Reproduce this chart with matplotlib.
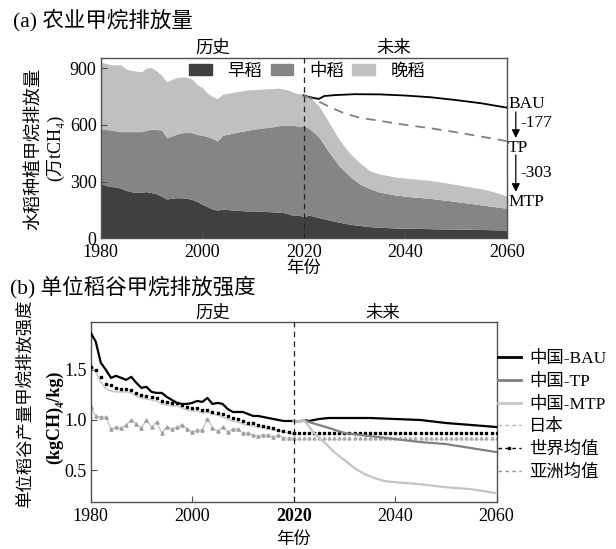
import numpy as np
import matplotlib
matplotlib.use("Agg")
import matplotlib.pyplot as plt
from matplotlib.patches import Patch
from matplotlib.lines import Line2D

plt.rcParams["font.family"] = ["Liberation Serif", "Noto Sans CJK SC", "DejaVu Serif"]
plt.rcParams["font.size"] = 13
plt.rcParams["lines.scale_dashes"] = False

# ── Panel (a) data: cumulative tops of the stacked areas (万tCH4) ────────────
YEARS_A = list(range(1980, 2021)) + [2021, 2022, 2023, 2025, 2027, 2029, 2031, 2033,
                                     2035, 2038, 2041, 2045, 2049, 2053, 2056, 2060]
EARLY_TOP = [291, 280, 274, 271, 265, 253, 247, 242, 244, 247,
             242, 235, 222, 208, 212, 215, 214, 212, 205, 195,
             180, 168, 155, 150, 155, 152, 150, 148, 146, 145,
             145, 144, 143, 141, 140, 139, 136, 130, 120, 123,
             114,
             123, 116, 110, 97, 85, 75, 68, 62, 58, 55, 53, 51, 49, 48, 46, 44]
MIDDLE_TOP = [578, 575, 573, 568, 564, 564, 564, 564, 564, 571,
              578, 575, 573, 532, 541, 552, 558, 561, 558, 549,
              545, 538, 528, 515, 545, 550, 556, 562, 567, 572,
              576, 580, 584, 586, 590, 595, 597, 599, 598, 592,
              596,
              582, 560, 535, 455, 383, 330, 288, 263, 244, 229, 220, 211, 198, 184, 173, 159]
LATE_TOP = [931, 925, 917, 917, 917, 895, 888, 884, 881, 900,
            903, 885, 862, 829, 840, 850, 853, 852, 842, 812,
            798, 768, 750, 740, 762, 767, 771, 776, 780, 785,
            786, 788, 789, 790, 792, 794, 790, 783, 772, 763,
            767,
            749, 725, 700, 612, 522, 452, 400, 358, 340, 324, 316, 306, 289, 271, 257, 225]

BAU_YEARS = [2020, 2021, 2022, 2023, 2024, 2026, 2030, 2035, 2040, 2045, 2050, 2055, 2060]
BAU_TOTAL = [755, 748, 742, 737, 752, 757, 762, 761, 755, 746, 731, 714, 691]
TP_YEARS = [2020, 2023, 2025, 2028, 2031, 2035, 2040, 2045, 2050, 2055, 2060]
TP_TOTAL = [755, 723, 696, 661, 638, 621, 600, 582, 561, 538, 514]

AREA_LABELS = ["早稻", "中稻", "晚稻"]
AREA_COLORS = ["#404040", "#858585", "#c0c0c0"]

# ── Panel (b) data: emission intensity (kgCH4/kg) ────────────────────────────
YEARS_HIST = list(range(1980, 2021))
CHINA_HIST = [1.87, 1.78, 1.57, 1.50, 1.42, 1.44, 1.42, 1.40, 1.43, 1.37,
              1.32, 1.33, 1.28, 1.27, 1.27, 1.23, 1.20, 1.17, 1.16, 1.16,
              1.17, 1.19, 1.18, 1.22, 1.16, 1.17, 1.16, 1.11, 1.08, 1.08,
              1.08, 1.06, 1.04, 1.04, 1.03, 1.02, 1.01, 1.00, 0.99, 0.99,
              0.99]
WORLD_HIST = [1.53, 1.50, 1.43, 1.36, 1.35, 1.32, 1.31, 1.31, 1.30, 1.27,
              1.25, 1.24, 1.23, 1.22, 1.19, 1.18, 1.17, 1.17, 1.15, 1.13,
              1.12, 1.12, 1.10, 1.10, 1.08, 1.07, 1.06, 1.04, 1.02, 1.01,
              0.99, 0.97, 0.97, 0.95, 0.94, 0.93, 0.92, 0.90, 0.89, 0.88,
              0.87]
ASIA_HIST = [1.54, 1.48, 1.38, 1.31, 1.29, 1.28, 1.28, 1.28, 1.27, 1.24,
             1.22, 1.21, 1.20, 1.19, 1.16, 1.15, 1.14, 1.14, 1.12, 1.10,
             1.09, 1.09, 1.07, 1.08, 1.06, 1.05, 1.03, 1.01, 0.99, 0.98,
             0.96, 0.95, 0.94, 0.93, 0.92, 0.91, 0.90, 0.89, 0.88, 0.87,
             0.86]
JAPAN_HIST = [1.13, 1.04, 1.03, 1.03, 0.91, 0.93, 0.92, 0.95, 1.00, 0.96,
              0.92, 1.00, 0.93, 0.98, 0.87, 0.93, 0.91, 0.93, 0.95, 0.91,
              0.88, 0.90, 0.90, 1.01, 0.92, 0.89, 0.93, 0.88, 0.91, 0.91,
              0.87, 0.87, 0.85, 0.84, 0.85, 0.85, 0.83, 0.85, 0.82, 0.82,
              0.82]
WORLD_FUTURE = 0.873
JAPAN_FUTURE = 0.818

BAU_FUT_YEARS = [2021, 2022, 2023, 2024, 2025, 2027, 2030, 2035, 2040, 2045, 2050, 2055, 2060]
BAU_FUT = [0.98, 1.00, 0.99, 1.00, 1.01, 1.02, 1.02, 1.02, 1.01, 1.00, 0.97, 0.95, 0.93]
TP_FUT_YEARS = [2020, 2021, 2022, 2023, 2025, 2027, 2030, 2035, 2040, 2045, 2050, 2055, 2060]
TP_FUT = [0.99, 0.98, 1.00, 0.98, 0.95, 0.92, 0.87, 0.84, 0.81, 0.78, 0.76, 0.72, 0.68]
MTP_FUT_YEARS = [2020, 2021, 2022, 2024, 2026, 2028, 2030, 2032, 2034, 2036, 2038,
                 2040, 2045, 2050, 2055, 2060]
MTP_FUT = [0.99, 0.98, 1.00, 0.87, 0.78, 0.68, 0.60, 0.52, 0.46, 0.42, 0.39,
           0.38, 0.36, 0.33, 0.31, 0.27]

XTICKS = [1980, 2000, 2020, 2040, 2060]
SPINE = "#505050"


def style_axis(ax):
    for s in ax.spines.values():
        s.set_color(SPINE)
        s.set_linewidth(1.0)
    ax.tick_params(direction="in", length=4, width=0.8, color=SPINE,
                   top=False, right=False, pad=3, labelsize=13)
    ax.tick_params(axis="x", pad=4)
    ax.set_xticks(XTICKS)
    ax.set_xlim(1980, 2060)


fig = plt.figure(figsize=(6.16, 5.49), dpi=100)

# ── (a) stacked areas ────────────────────────────────────────────────────────
ax1 = fig.add_axes([0.1635, 0.5659, 0.659, 0.329])
ax1.fill_between(YEARS_A, 0, EARLY_TOP, color=AREA_COLORS[0], lw=0)
ax1.fill_between(YEARS_A, EARLY_TOP, MIDDLE_TOP, color=AREA_COLORS[1], lw=0)
ax1.fill_between(YEARS_A, MIDDLE_TOP, LATE_TOP, color=AREA_COLORS[2], lw=0)
ax1.plot(BAU_YEARS, BAU_TOTAL, color="black", lw=1.3, zorder=4)
ax1.plot(TP_YEARS, TP_TOTAL, color="#808080", lw=1.3, ls=(0, (7, 5)), zorder=4)
ax1.axvline(2020, color="#222222", lw=0.9, ls=(0, (4, 3)), zorder=5)
ax1.set_ylim(0, 955)
ax1.set_yticks([0, 300, 600, 900])
style_axis(ax1)
ax1.set_xlabel("年份", fontsize=12.5, labelpad=0)

ax1.legend(handles=[Patch(color=c, label=l) for c, l in zip(AREA_COLORS, AREA_LABELS)],
           loc="center", bbox_to_anchor=(0.509, 0.922), ncol=3, frameon=False,
           fontsize=12.5, handlelength=1.3, handleheight=0.6, handletextpad=0.9,
           columnspacing=0.5, borderpad=0)

ax1.text(2002, 1.05, "历史", transform=ax1.get_xaxis_transform(),
         ha="center", va="center", fontsize=12.5)
ax1.text(2037.8, 1.05, "未来", transform=ax1.get_xaxis_transform(),
         ha="center", va="center", fontsize=12.5)

# scenario labels and reduction arrows
for lbl, yv in [("BAU", 711), ("TP", 478), ("MTP", 192)]:
    ax1.text(2060.3, yv, lbl, ha="left", va="center", fontsize=12.5, clip_on=False)
for y0, y1, txt, yt in [(668, 531, "-177", 610), (441, 246, "-303", 345)]:
    ax1.annotate("", xy=(2061.8, y1), xytext=(2061.8, y0), annotation_clip=False,
                 arrowprops=dict(arrowstyle="-|>", color="black", lw=0.9,
                                 mutation_scale=12, shrinkA=0, shrinkB=0))
    ax1.text(2062.8, yt, txt, ha="left", va="center", fontsize=12.5, clip_on=False)

fig.text(13 / 616, 1 - 20 / 549, "(a) 农业甲烷排放量", fontsize=15.5, va="center")
fig.text(33 / 616, 1 - 149 / 549, "水稻种植甲烷排放量", rotation=90,
         ha="center", va="center", fontsize=13)
fig.text(55 / 616, 1 - 148 / 549, "(万tCH₄)", rotation=90,
         ha="center", va="center", fontsize=13)

# ── (b) intensity lines ──────────────────────────────────────────────────────
ax2 = fig.add_axes([0.1472, 0.0851, 0.659, 0.329])
fut_years = np.arange(2020, 2061)

ax2.plot(YEARS_HIST, ASIA_HIST, color="#c8c8c8", lw=1.2, zorder=2)
ax2.plot(YEARS_HIST, JAPAN_HIST, color="#bcbcbc", lw=0.8, marker="^", ms=2.3,
         mfc="#a0a0a0", mec="#a0a0a0", zorder=2)
ax2.plot(fut_years, np.full(fut_years.size, JAPAN_FUTURE), ls="none",
         marker="^", ms=2.1, mfc="#a8a8a8", mec="#a8a8a8", zorder=2)
ax2.plot(YEARS_HIST, WORLD_HIST, ls="none", marker="s", ms=1.8, color="black", zorder=3)
ax2.plot(fut_years, np.full(fut_years.size, WORLD_FUTURE), ls="none", marker="s",
         ms=1.8, color="black", zorder=3)
ax2.plot(YEARS_HIST + BAU_FUT_YEARS, CHINA_HIST + BAU_FUT, color="black", lw=1.6, zorder=4)
ax2.plot(TP_FUT_YEARS, TP_FUT, color="#808080", lw=1.6, zorder=5)
ax2.plot(MTP_FUT_YEARS, MTP_FUT, color="#c4c4c4", lw=1.6, zorder=6)
ax2.axvline(2020, color="#222222", lw=0.9, ls=(0, (4, 3)), zorder=7)

ax2.set_ylim(0.18, 1.98)
ax2.set_yticks([0.5, 1.0, 1.5])
style_axis(ax2)
ax2.set_xlabel("年份", fontsize=12.5, labelpad=5)
for t in ax2.get_xticklabels():
    if t.get_text() == "2020":
        t.set_fontweight("bold")

ax2.text(2004, 1.045, "历史", transform=ax2.get_xaxis_transform(),
         ha="center", va="center", fontsize=12.5)
ax2.text(2037.6, 1.045, "未来", transform=ax2.get_xaxis_transform(),
         ha="center", va="center", fontsize=12.5)

legend_handles = [
    Line2D([], [], color="black", lw=2.0, label="中国-BAU"),
    Line2D([], [], color="#808080", lw=2.0, label="中国-TP"),
    Line2D([], [], color="#c8c8c8", lw=2.0, label="中国-MTP"),
    Line2D([], [], color="#b4b4b4", lw=1.0, ls=(0, (2.5, 2.5)), label="日本"),
    Line2D([], [], color="black", lw=1.0, ls=(0, (2.5, 2.5)), marker="s", ms=2.0,
           label="世界均值"),
    Line2D([], [], color="#909090", lw=1.0, ls=(0, (2.5, 2.5)), label="亚洲均值"),
]
fig.legend(handles=legend_handles, loc="upper left",
           bbox_to_anchor=(498 / 616, 1 - 351 / 549), frameon=False,
           fontsize=12.5, handlelength=1.3, handletextpad=0.5, labelspacing=0.38,
           borderpad=0, borderaxespad=0, numpoints=1)

fig.text(10 / 616, 1 - 287 / 549, "(b) 单位稻谷甲烷排放强度", fontsize=15.5, va="center")
fig.text(25 / 616, 1 - 404 / 549, "单位稻谷产量甲烷排放强度", rotation=90,
         ha="center", va="center", fontsize=12.5)
fig.text(55 / 616, 1 - 417 / 549, "(kgCH)₄/kg)", rotation=90,
         ha="center", va="center", fontsize=13, fontweight="bold")

fig.savefig("out.png", dpi=100)
